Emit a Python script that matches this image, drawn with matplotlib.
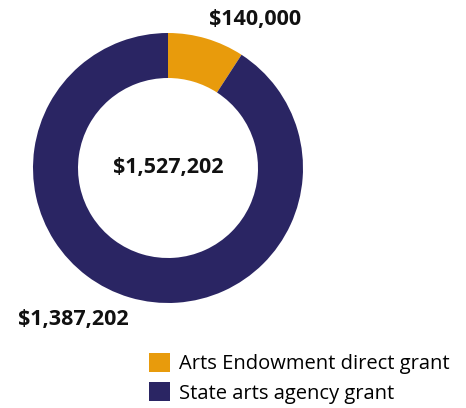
import numpy as np
import matplotlib.pyplot as plt
from matplotlib.patches import Patch

plt.rcParams['font.family'] = ['Open Sans', 'DejaVu Sans']

labels = ["Arts Endowment direct grant", "State arts agency grant"]
values = [140000, 1387202]
colors = ["#E89B0C", "#2A2563"]
total = sum(values)

W, H = 466, 408
fig = plt.figure(figsize=(W / 100, H / 100), dpi=100)
ax = fig.add_axes([0, 0, 1, 1])

cx, cy, r = 168, H - 168, 135
ax.pie(values, colors=colors, startangle=90, counterclock=False,
       center=(cx, cy), radius=r, frame=True,
       wedgeprops=dict(width=45, linewidth=0))
ax.set_xlim(0, W)
ax.set_ylim(0, H)
ax.set_aspect('equal')
ax.axis('off')

ax.text(cx, cy, "${:,}".format(total), ha='center', va='center',
        fontsize=15.5, fontweight='bold', color='#111111')
ax.text(255, H - 20, "${:,}".format(values[0]), ha='center', va='center',
        fontsize=15.5, fontweight='bold', color='#111111')
ax.text(73, H - 320, "${:,}".format(values[1]), ha='center', va='center',
        fontsize=15.5, fontweight='bold', color='#111111')

handles = [Patch(facecolor=c, edgecolor='none') for c in colors]
fig.legend(handles, labels, loc='upper left', bbox_to_anchor=(139 / W, 1 - 343 / H),
           frameon=False, fontsize=14.5, handlelength=1.05, handleheight=1.05,
           handletextpad=0.45, labelspacing=0.4, borderpad=0)

fig.savefig("out.png", dpi=100)
